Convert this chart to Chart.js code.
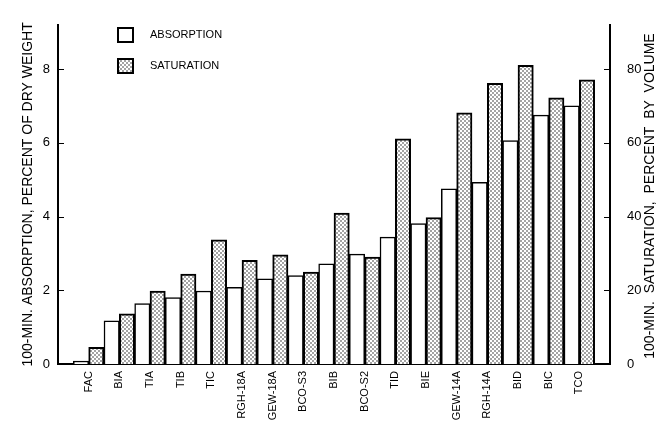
<!DOCTYPE html>
<html lang="en">
<head>
  <meta charset="UTF-8">
  <title>Absorption and Saturation</title>
  <script src="https://cdn.jsdelivr.net/npm/chart.js"></script>
  <style>
    body { margin: 0; background: #fff; }
    canvas { display: block; }
  </style>
</head>
<body>
  <canvas id="barChart" width="665" height="421"></canvas>

  <script>
    // Values
    const categories = ['FAC', 'BIA', 'TIA', 'TIB', 'TIC', 'RGH-18A', 'GEW-18A', 'BCO-S3', 'BIB',
                        'BCO-S2', 'TID', 'BIE', 'GEW-14A', 'RGH-14A', 'BID', 'BIC', 'TCO'];
    // percent of dry weight (left axis)
    const absorption = [0.08, 1.17, 1.64, 1.8, 1.98, 2.08, 2.31, 2.4, 2.72,
                        2.98, 3.44, 3.81, 4.75, 4.93, 6.06, 6.75, 7.0];
    // percent by volume (right axis)
    const saturation = [4.5, 13.6, 19.8, 24.4, 33.7, 28.1, 29.6, 24.9, 40.9,
                        29.0, 61.1, 39.7, 68.1, 76.1, 81.0, 72.2, 77.1];
    const leftTicks = [0, 2, 4, 6, 8];
    const rightTicks = [0, 20, 40, 60, 80];

    const font = 'Liberation Sans, Arial, sans-serif';

    // dotted fill for the saturation bars
    function dots() {
      const c = document.createElement('canvas');
      c.width = 4; c.height = 4;
      const g = c.getContext('2d');
      g.fillStyle = '#fff';
      g.fillRect(0, 0, 4, 4);
      g.fillStyle = '#000';
      g.beginPath(); g.arc(1, 1, 0.7, 0, Math.PI * 2); g.fill();
      g.beginPath(); g.arc(3, 3, 0.7, 0, Math.PI * 2); g.fill();
      return g.createPattern(c, 'repeat');
    }
    const dotFill = dots();

    // inward tick marks, legend in the upper left, right axis title reading upwards
    const extras = {
      id: 'extras',
      afterDraw(chart) {
        const ctx = chart.ctx;
        const area = chart.chartArea;
        ctx.save();
        ctx.strokeStyle = '#000';
        ctx.lineWidth = 1;
        const y = chart.scales.y, y2 = chart.scales.y2;
        y.ticks.forEach(t => {
          const py = Math.round(y.getPixelForValue(t.value)) + 0.5;
          ctx.beginPath(); ctx.moveTo(area.left, py); ctx.lineTo(area.left + 6, py); ctx.stroke();
        });
        y2.ticks.forEach(t => {
          const py = Math.round(y2.getPixelForValue(t.value)) + 0.5;
          ctx.beginPath(); ctx.moveTo(area.right - 6, py); ctx.lineTo(area.right, py); ctx.stroke();
        });

        ctx.font = '11px ' + font;
        ctx.textBaseline = 'middle';
        chart.data.datasets.forEach((ds, i) => {
          const ly = 28 + i * 31;
          ctx.fillStyle = ds.backgroundColor;
          ctx.fillRect(118, ly, 15, 14);
          ctx.lineWidth = 2;
          ctx.strokeRect(118, ly, 15, 14);
          ctx.fillStyle = '#000';
          ctx.fillText(ds.label, 150, ly + 7);
        });

        ctx.font = '14px ' + font;
        ctx.textAlign = 'center';
        ctx.translate(650, 196);
        ctx.rotate(-Math.PI / 2);
        ctx.fillText('100-MIN.  SATURATION,  PERCENT  BY  VOLUME', 0, 0);
        ctx.restore();
      }
    };

    const barCtx = document.getElementById('barChart').getContext('2d');
    const barChart = new Chart(barCtx, {
      type: 'bar',
      data: {
        datasets: [
          {
            label: 'ABSORPTION',
            data: absorption.map((v, i) => ({ x: i, y: v })),
            backgroundColor: '#fff',
            borderColor: '#000',
            borderWidth: 1.5,
            yAxisID: 'y'
          },
          {
            label: 'SATURATION',
            data: saturation.map((v, i) => ({ x: i, y: v })),
            backgroundColor: dotFill,
            borderColor: '#000',
            borderWidth: 2,
            yAxisID: 'y2'
          }
        ]
      },
      options: {
        responsive: false,
        animation: false,
        categoryPercentage: 1,
        barPercentage: 1,
        layout: { padding: { top: 10 } },
        plugins: {
          legend: { display: false },
          tooltip: { enabled: false }
        },
        scales: {
          x: {
            type: 'linear',
            offset: false,
            min: -1,
            max: categories.length,
            afterFit: s => { s.height = 57; },
            afterBuildTicks: s => {
              s.ticks = categories.map((c, i) => ({ value: i }));
            },
            grid: { display: false, drawTicks: false },
            border: { color: '#000', width: 2 },
            ticks: {
              autoSkip: false,
              maxRotation: 90,
              minRotation: 90,
              padding: 7,
              color: '#000',
              font: { family: font, size: 11 },
              callback: v => categories[v] || ''
            }
          },
          y: {
            position: 'left',
            min: 0,
            max: 9.2,
            afterFit: s => { s.width = 58; },
            afterBuildTicks: s => {
              s.ticks = leftTicks.map(v => ({ value: v }));
            },
            grid: { display: false, drawTicks: false },
            border: { color: '#000', width: 2 },
            ticks: { padding: 8, color: '#000', font: { family: font, size: 13 } },
            title: {
              display: true,
              text: '100-MIN. ABSORPTION, PERCENT OF DRY WEIGHT',
              color: '#000',
              font: { family: font, size: 14 },
              padding: { top: 20, bottom: 0 }
            }
          },
          y2: {
            position: 'right',
            min: 0,
            max: 92,
            afterFit: s => { s.width = 55; },
            afterBuildTicks: s => {
              s.ticks = rightTicks.map(v => ({ value: v }));
            },
            grid: { display: false, drawTicks: false },
            border: { color: '#000', width: 2 },
            ticks: { padding: 17, color: '#000', font: { family: font, size: 13 } }
          }
        }
      },
      plugins: [extras]
    });
  </script>
</body>
</html>
